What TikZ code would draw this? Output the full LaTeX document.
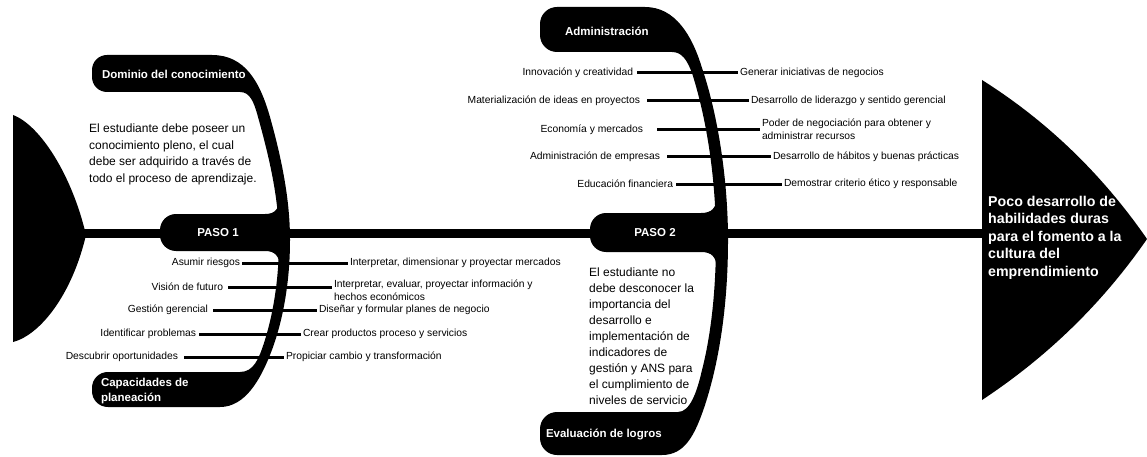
\documentclass[tikz,border=0pt]{standalone}
\usepackage{fontspec}
\setmainfont{Liberation Sans}
\begin{document}
\begin{tikzpicture}[x=1pt,y=-1pt,
  lbl/.style={font=\fontsize{10.3}{13}\selectfont, inner sep=0pt, outer sep=0pt, align=left},
  tablbl/.style={font=\bfseries\fontsize{11.5}{15}\selectfont, text=white, inner sep=0pt, outer sep=0pt, align=left},
  headlbl/.style={font=\bfseries\fontsize{14.2}{17.5}\selectfont, text=white, inner sep=0pt, align=left, anchor=north west},
  para/.style={font=\fontsize{12}{16.5}\selectfont, inner sep=0pt, align=left, anchor=north west},
  itemline/.style={line width=3pt, shorten >=2pt},
  spineline/.style={line width=9pt}
]
\useasboundingbox (0,0) rectangle (1147,457);

% tail (left)
\fill[black] (13,115) .. controls (40,125) and (72,175) .. (86,235) .. controls (72,295) and (40,335) .. (13,342) -- cycle;
% head (right)
\fill[black] (982,80) .. controls (1047,121) and (1102,174) .. (1147,239) .. controls (1102,304) and (1047,357) .. (982,400) -- cycle;

\coordinate (tailtip) at (80,233);
\coordinate (headbase) at (990,233);
\draw[spineline] (tailtip) -- (headbase);

% bone 1
\fill[black] (212,55) -- (107,55) .. controls (98.7,55) and (92,61.7) .. (92,70) -- (92,77) .. controls (92,85.3) and (98.7,92) .. (107,92) -- (240,92) .. controls (250,92) and (254,102) .. (258,117) .. controls (270,160) and (279,200) .. (279,240) .. controls (279,280) and (273,315) .. (264,343) .. controls (259,358) and (254,372) .. (240,372) -- (108,372) .. controls (99,372) and (92,379) .. (92,388) -- (92,391) .. controls (92,400) and (99,407) .. (108,407) -- (220,407) .. controls (245,407) and (260,380) .. (270,355) .. controls (282,325) and (290,285) .. (290,240) .. controls (290,200) and (282,160) .. (270,117) .. controls (260,82) and (245,55) .. (212,55) -- cycle;
% PASO 1 tab
\fill[black] (280,198) .. controls (279,209) and (275,214) .. (265,214) -- (176,214) .. controls (167.2,214) and (160,221.2) .. (160,230) -- (160,235) .. controls (160,243.8) and (167.2,251) .. (176,251) -- (265,251) .. controls (275,251) and (279,256) .. (280,266) -- cycle;

% bone 2
\fill[black] (645,7) -- (557,7) .. controls (547.6,7) and (540,14.6) .. (540,24) -- (540,35) .. controls (540,44.4) and (547.6,52) .. (557,52) -- (672,52) .. controls (682,52) and (687,60) .. (692,73) .. controls (707,120) and (716,180) .. (716,240) .. controls (716,290) and (711,335) .. (702,370) .. controls (697,392) and (690,412) .. (678,412) -- (557,412) .. controls (547.6,412) and (540,419.6) .. (540,429) -- (540,438) .. controls (540,447.4) and (547.6,455) .. (557,455) -- (662,455) .. controls (685,455) and (695,435) .. (705,405) .. controls (718,365) and (728,310) .. (728,240) .. controls (728,180) and (718,115) .. (702,68) .. controls (692,35) and (675,7) .. (645,7) -- cycle;
% PASO 2 tab
\fill[black] (717,197) .. controls (716,208) and (712,213) .. (701,213) -- (606,213) .. controls (597.2,213) and (590,220.2) .. (590,229) -- (590,236) .. controls (590,244.8) and (597.2,252) .. (606,252) -- (701,252) .. controls (712,252) and (716,257) .. (717,268) -- cycle;

% tab labels
\node[tablbl, anchor=west] (t1) at (102,74) {Dominio del conocimiento};
\node[tablbl, anchor=west] (t2) at (101,391) {Capacidades de\\planeación};
\node[tablbl] (s1) at (218,233) {PASO 1};
\node[tablbl] (s2) at (655,233) {PASO 2};
\node[tablbl, anchor=west] (t3) at (565,31) {Administración};
\node[tablbl, anchor=west] (t4) at (546,434) {Evaluación de logros};

% head text
\node[headlbl] (ht) at (988,196) {Poco desarrollo de\\habilidades duras\\para el fomento a la\\cultura del\\emprendimiento};

% paragraphs
\node[para] (p1) at (89,124) {El estudiante debe poseer un\\conocimiento pleno, el cual\\debe ser adquirido a través de\\todo el proceso de aprendizaje.};
\node[para, font=\fontsize{12}{16}\selectfont] (p2) at (589,268) {El estudiante no\\debe desconocer la\\importancia del\\desarrollo e\\implementación de\\indicadores de\\gestión y ANS para\\el cumplimiento de\\niveles de servicio};

% bone 1 items
\node[lbl, anchor=east] (a1) at (240,263) {Asumir riesgos};
\node[lbl, anchor=east] (a2) at (223,287) {Visión de futuro};
\node[lbl, anchor=east] (a3) at (208,310) {Gestión gerencial};
\node[lbl, anchor=east] (a4) at (196,334) {Identificar problemas};
\node[lbl, anchor=east] (a5) at (178,357) {Descubrir oportunidades};
\node[lbl, anchor=west] (b1) at (350,263) {Interpretar, dimensionar y proyectar mercados};
\node[lbl, anchor=west] (b2) at (334,290) {Interpretar, evaluar, proyectar información y\\hechos económicos};
\node[lbl, anchor=west] (b3) at (319,310) {Diseñar y formular planes de negocio};
\node[lbl, anchor=west] (b4) at (303,334) {Crear productos proceso y servicios};
\node[lbl, anchor=west] (b5) at (286,357) {Propiciar cambio y transformación};
\draw[itemline, shorten <=2pt] (a1.east) -- (a1.east -| b1.west);
\draw[itemline, shorten <=5pt] (a2.east) -- (a2.east -| b2.west);
\draw[itemline, shorten <=5pt] (a3.east) -- (a3.east -| b3.west);
\draw[itemline, shorten <=3pt] (a4.east) -- (a4.east -| b4.west);
\draw[itemline, shorten <=6pt] (a5.east) -- (a5.east -| b5.west);

% bone 2 items
\node[lbl, anchor=east] (c1) at (633,73) {Innovación y creatividad};
\node[lbl, anchor=east] (c2) at (640,101) {Materialización de ideas en proyectos};
\node[lbl, anchor=east] (c3) at (643,130) {Economía y mercados};
\node[lbl, anchor=east] (c4) at (660,157) {Administración de empresas};
\node[lbl, anchor=east] (c5) at (673,184) {Educación financiera};
\node[lbl, anchor=west] (d1) at (740,73) {Generar iniciativas de negocios};
\node[lbl, anchor=west] (d2) at (751,101) {Desarrollo de liderazgo y sentido gerencial};
\node[lbl, anchor=west] (d3) at (762,129.5) {Poder de negociación para obtener y\\administrar recursos};
\node[lbl, anchor=west] (d4) at (773,157) {Desarrollo de hábitos y buenas prácticas};
\node[lbl, anchor=west] (d5) at (784,184) {Demostrar criterio ético y responsable};
\draw[itemline, shorten <=4pt] (c1.east) -- (c1.east -| d1.west);
\draw[itemline, shorten <=7pt] (c2.east) -- (c2.east -| d2.west);
\draw[itemline, shorten <=14pt] (c3.east) -- (c3.east -| d3.west);
\draw[itemline, shorten <=7pt] (c4.east) -- (c4.east -| d4.west);
\draw[itemline, shorten <=3pt] (c5.east) -- (c5.east -| d5.west);
\end{tikzpicture}
\end{document}
